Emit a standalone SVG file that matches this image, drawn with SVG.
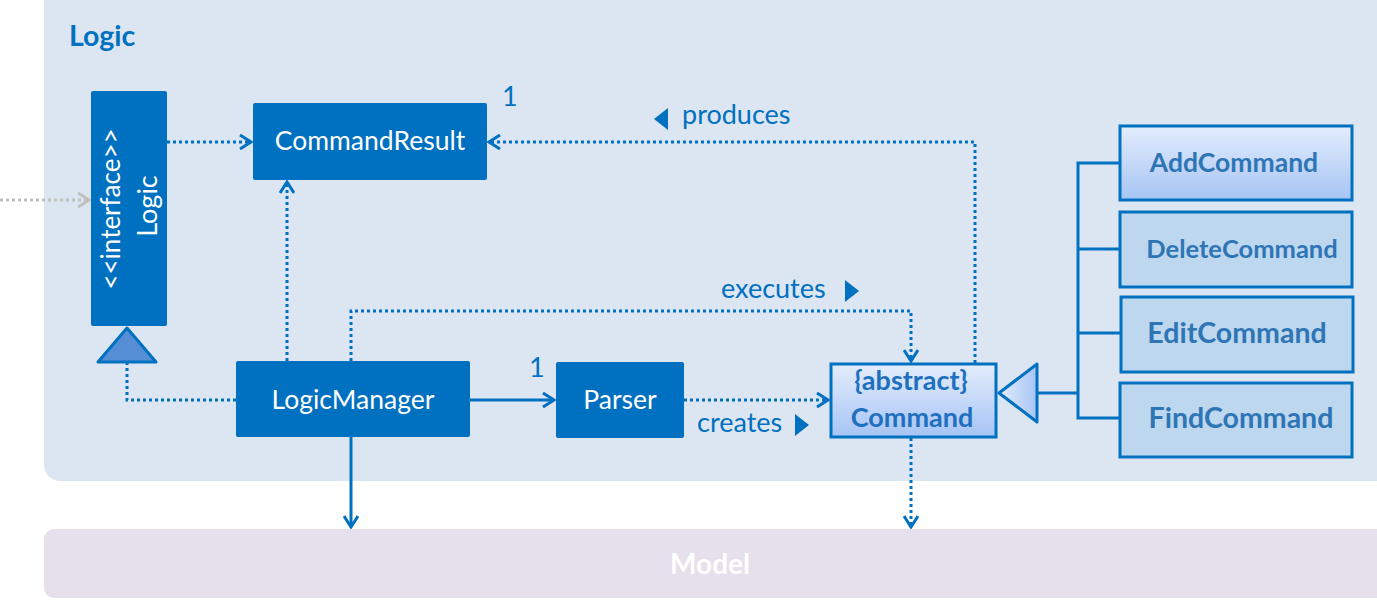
<svg xmlns="http://www.w3.org/2000/svg" width="1377" height="600" viewBox="0 0 1377 600">
  <style>
    .lbl { font-family: Lato, "Open Sans", "Liberation Sans", sans-serif; }
    .solidbox { fill: #0070c0; }
    .white { fill: #ffffff; font-size: 26.5px; text-anchor: middle; }
    .dot { fill: none; stroke: #0070c0; stroke-width: 3; stroke-dasharray: 3 3; }
    .line { fill: none; stroke: #0070c0; stroke-width: 3; }
    .sub { fill: #bdd7ee; stroke: #0070c0; stroke-width: 3; }
    .subtxt { fill: #2e75b6; font-weight: bold; text-anchor: middle; }
    .edge { fill: #0070c0; font-size: 27px; }
  </style>
  <defs>
    <linearGradient id="grad" x1="0" y1="0" x2="0" y2="1">
      <stop offset="0" stop-color="#e3edfc"/>
      <stop offset="1" stop-color="#a6c4f4"/>
    </linearGradient>
    <linearGradient id="gradH" x1="0" y1="0" x2="1" y2="0">
      <stop offset="0" stop-color="#e3edfc"/>
      <stop offset="1" stop-color="#a6c4f4"/>
    </linearGradient>
    <marker id="open" markerWidth="14" markerHeight="16" refX="12" refY="8" orient="auto" markerUnits="userSpaceOnUse">
      <path d="M1,1 L12,8 L1,15" fill="none" stroke="#0070c0" stroke-width="3"/>
    </marker>
    <marker id="openGray" markerWidth="14" markerHeight="16" refX="12" refY="8" orient="auto" markerUnits="userSpaceOnUse">
      <path d="M1,1 L12,8 L1,15" fill="none" stroke="#bfbfbf" stroke-width="3"/>
    </marker>
  </defs>

  <!-- package backgrounds -->
  <g id="logic-package">
    <rect x="44" y="-20" width="1353" height="501" rx="16" fill="#dce6f2"/>
    <text class="lbl" x="69" y="46" font-size="28.5" font-weight="bold" fill="#0070c0">Logic</text>
  </g>
  <g id="model-package">
    <rect x="44" y="529" width="1353" height="69" rx="10" fill="#e6e0ec"/>
    <text class="lbl" x="710" y="574" font-size="28" font-weight="bold" fill="#ffffff" text-anchor="middle">Model</text>
  </g>

  <!-- connectors -->
  <g id="connectors">
    <line x1="0" y1="200" x2="89" y2="200" fill="none" stroke="#bfbfbf" stroke-width="3" stroke-dasharray="3 3" marker-end="url(#openGray)"/>
    <line class="dot" x1="167" y1="142" x2="251" y2="142" marker-end="url(#open)"/>
    <polyline class="dot" points="236,400 127,400 127,362"/>
    <polygon points="127,328 98,362 156,362" fill="#558ed5" stroke="#0070c0" stroke-width="3" stroke-linejoin="round"/>
    <line class="dot" x1="287" y1="361" x2="287" y2="182" marker-end="url(#open)"/>
    <polyline class="dot" points="351,361 351,311 911,311 911,361" marker-end="url(#open)"/>
    <line class="line" x1="470" y1="400" x2="554" y2="400" marker-end="url(#open)"/>
    <line class="dot" x1="684" y1="400" x2="828" y2="400" marker-end="url(#open)"/>
    <polyline class="dot" points="975,363 975,142 489,142" marker-end="url(#open)"/>
    <line class="dot" x1="911" y1="438" x2="911" y2="527" marker-end="url(#open)"/>
    <line class="line" x1="351" y1="437" x2="351" y2="527" marker-end="url(#open)"/>
    <!-- generalization tree -->
    <polyline class="line" points="1120,163 1078,163 1078,418 1120,418"/>
    <line class="line" x1="1078" y1="249" x2="1120" y2="249"/>
    <line class="line" x1="1078" y1="333" x2="1120" y2="333"/>
    <line class="line" x1="1037" y1="393" x2="1078" y2="393"/>
    <polygon points="999,393 1037,364 1037,422" fill="url(#gradH)" stroke="#0070c0" stroke-width="3" stroke-linejoin="round"/>
    <!-- labels -->
    <text class="lbl edge" x="502" y="106">1</text>
    <text class="lbl edge" x="529" y="377">1</text>
    <polygon points="668,108 668,130 654,119" fill="#0070c0"/>
    <text class="lbl edge" x="682" y="124">produces</text>
    <text class="lbl edge" x="721" y="298">executes</text>
    <polygon points="845,280 845,302 859,291" fill="#0070c0"/>
    <text class="lbl edge" x="697" y="432">creates</text>
    <polygon points="795,414 795,436 809,425" fill="#0070c0"/>
  </g>

  <!-- nodes -->
  <g id="node-logic">
    <rect class="solidbox" x="91" y="91" width="76" height="235" rx="2"/>
    <text class="lbl" x="0" y="0" font-size="26" fill="#ffffff" text-anchor="middle" transform="translate(120 209) rotate(-90)">&lt;&lt;interface&gt;&gt;</text>
    <text class="lbl" x="0" y="0" font-size="27" fill="#ffffff" text-anchor="middle" transform="translate(157 206) rotate(-90)">Logic</text>
  </g>
  <g id="node-commandresult">
    <rect class="solidbox" x="253" y="103" width="234" height="77" rx="2"/>
    <text class="lbl white" x="370" y="150">CommandResult</text>
  </g>
  <g id="node-logicmanager">
    <rect class="solidbox" x="236" y="361" width="234" height="76" rx="2"/>
    <text class="lbl white" x="353" y="409">LogicManager</text>
  </g>
  <g id="node-parser">
    <rect class="solidbox" x="556" y="362" width="128" height="76" rx="2"/>
    <text class="lbl white" x="620" y="409">Parser</text>
  </g>
  <g id="node-command">
    <rect x="831" y="364" width="165" height="73" fill="url(#grad)" stroke="#0070c0" stroke-width="3"/>
    <text class="lbl" x="911" y="390" font-size="27" font-weight="bold" fill="#1f6fbf" text-anchor="middle">{abstract}</text>
    <text class="lbl" x="912" y="427" font-size="27" font-weight="bold" fill="#1f6fbf" text-anchor="middle">Command</text>
  </g>
  <g id="node-addcommand">
    <rect x="1120" y="126" width="232" height="74" fill="url(#grad)" stroke="#0070c0" stroke-width="3"/>
    <text class="lbl subtxt" x="1234" y="172" font-size="26.5">AddCommand</text>
  </g>
  <g id="node-deletecommand">
    <rect class="sub" x="1120" y="212" width="232" height="75"/>
    <text class="lbl subtxt" x="1242" y="258" font-size="25.5">DeleteCommand</text>
  </g>
  <g id="node-editcommand">
    <rect class="sub" x="1121" y="297" width="232" height="75"/>
    <text class="lbl subtxt" x="1237" y="343" font-size="28.5">EditCommand</text>
  </g>
  <g id="node-findcommand">
    <rect class="sub" x="1120" y="383" width="232" height="74"/>
    <text class="lbl subtxt" x="1241" y="428" font-size="28.5">FindCommand</text>
  </g>
</svg>
